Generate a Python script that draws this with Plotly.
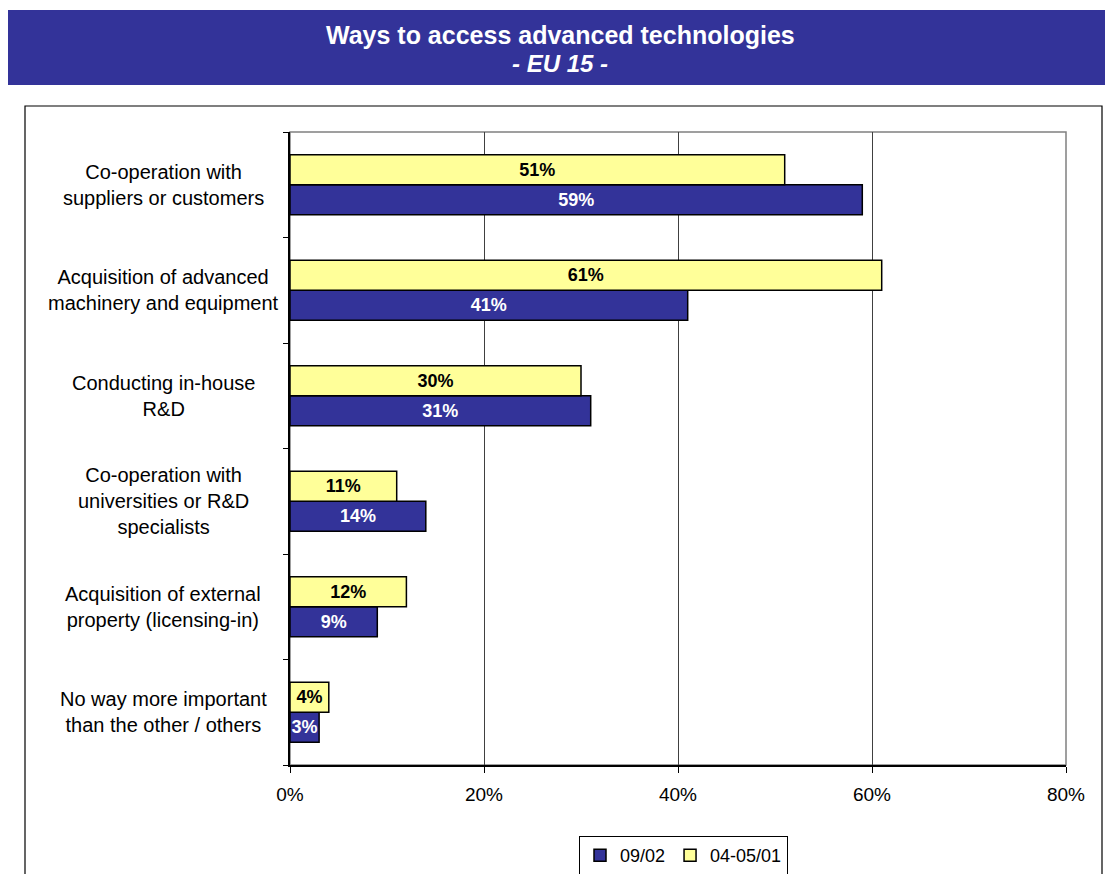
import plotly.graph_objects as go

# Survey answers, listed top to bottom as shown on the chart
categories = [
    "Co-operation with<br>suppliers or customers",
    "Acquisition of advanced<br>machinery and equipment",
    "Conducting in-house<br>R&D",
    "Co-operation with<br>universities or R&D<br>specialists",
    "Acquisition of external<br>property (licensing-in)",
    "No way more important<br>than the other / others",
]
series_names = ["09/02", "04-05/01"]
values_0902 = [59, 41, 31, 14, 9, 3]
values_0401 = [51, 61, 30, 11, 12, 4]
x_tick_vals = [0, 20, 40, 60, 80]
x_tick_text = ["0%", "20%", "40%", "60%", "80%"]

FONT = "Arial, Liberation Sans, sans-serif"
BLUE = "#333399"
YELLOW = "#FFFF99"

# plot area in pixels (figure is 1105 x 874)
W, H = 1105, 874
L, R, T, B = 290, 1066, 132, 765


def px(x):
    return (x - L) / (R - L)


def py(y):
    return (B - y) / (B - T)


def bar_trace(name, values, color, text_color):
    return go.Bar(
        name=name, y=categories, x=values, orientation="h",
        marker=dict(color=color, line=dict(color="black", width=1.5)),
        text=[f"{v}%" for v in values],
        texttemplate="<b>%{text}</b>", textposition="inside",
        insidetextanchor="middle", constraintext="none", textangle=0,
        textfont=dict(family=FONT, size=18, color=text_color),
        cliponaxis=False, hoverinfo="skip",
    )


fig = go.Figure()
fig.add_trace(bar_trace(series_names[0], values_0902, BLUE, "white"))
fig.add_trace(bar_trace(series_names[1], values_0401, YELLOW, "black"))

shapes = [
    # title banner
    dict(type="rect", xref="paper", yref="paper",
         x0=px(8), x1=px(1110), y0=py(85), y1=py(10),
         fillcolor=BLUE, line=dict(width=0), layer="below"),
    # outer chart frame
    dict(type="rect", xref="paper", yref="paper",
         x0=px(25), x1=px(1102), y0=py(900), y1=py(106),
         fillcolor="rgba(0,0,0,0)", line=dict(color="black", width=1.2),
         layer="below"),
    # plot area border
    dict(type="rect", xref="paper", yref="paper",
         x0=0, x1=1, y0=0, y1=1,
         fillcolor="rgba(0,0,0,0)", line=dict(color="#808080", width=1.5),
         layer="below"),
]

annotations = [
    dict(text="<b>Ways to access advanced technologies</b>",
         xref="paper", yref="paper", x=px(560), y=py(35),
         xanchor="center", yanchor="middle", showarrow=False,
         font=dict(family=FONT, size=25, color="white")),
    dict(text="<b><i>- EU 15 -</i></b>",
         xref="paper", yref="paper", x=px(560), y=py(63),
         xanchor="center", yanchor="middle", showarrow=False,
         font=dict(family=FONT, size=24, color="white")),
]
# category labels, centred in the space left of the axis
for c in categories:
    annotations.append(dict(
        text=c, xref="paper", yref="y", x=px(163), y=c,
        xanchor="center", yanchor="middle", align="center", showarrow=False,
        font=dict(family=FONT, size=20, color="black"),
    ))

fig.update_layout(
    width=W, height=H,
    margin=dict(l=L, r=W - R, t=T, b=H - B, pad=0),
    paper_bgcolor="white", plot_bgcolor="white",
    barmode="group", bargap=0.43, bargroupgap=0,
    font=dict(family=FONT, size=19, color="black"),
    shapes=shapes, annotations=annotations,
    showlegend=True,
    legend=dict(
        orientation="h",
        xref="container", yref="container",
        x=579 / W, y=(H - 836) / H, xanchor="left", yanchor="top",
        bordercolor="black", borderwidth=1, bgcolor="white",
        font=dict(family=FONT, size=18, color="black"),
        itemwidth=30, tracegroupgap=0, itemclick=False,
    ),
    xaxis=dict(
        range=[0, 80], tickvals=x_tick_vals, ticktext=x_tick_text,
        showgrid=True, gridcolor="#404040", gridwidth=1, zeroline=False,
        showline=True, linecolor="black", linewidth=2,
        ticks="outside", ticklen=6, tickcolor="black", tickwidth=1,
        ticklabelstandoff=5,
        tickfont=dict(family=FONT, size=19, color="black"),
        automargin=False, fixedrange=True,
    ),
    yaxis=dict(
        type="category", categoryorder="array",
        categoryarray=list(reversed(categories)),
        showticklabels=False, showgrid=False, zeroline=False,
        showline=True, linecolor="black", linewidth=1.5,
        ticks="outside", tickson="boundaries", ticklen=5,
        tickcolor="black", tickwidth=1,
        automargin=False, fixedrange=True,
    ),
)

fig.write_html("out.html", config={"displayModeBar": False})
